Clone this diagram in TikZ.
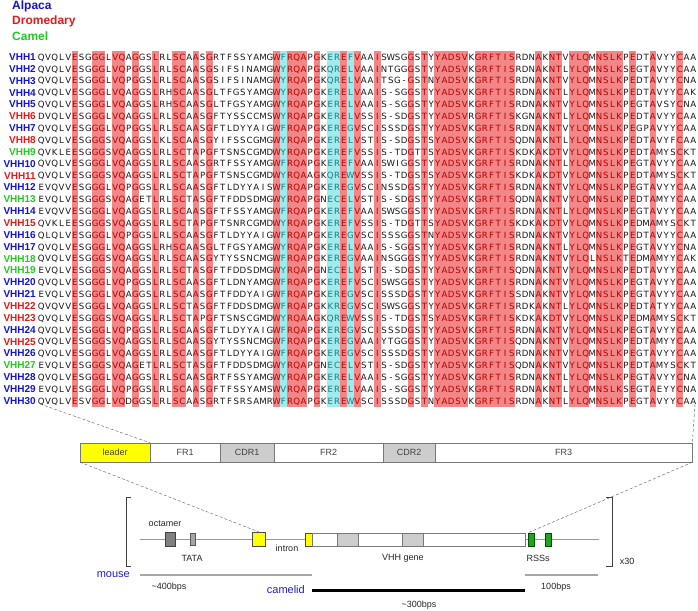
\documentclass[tikz,border=0pt]{standalone}
\usepackage{fontspec}
\setmainfont{Liberation Sans}
\newfontfamily\resfont{DejaVu Sans}

\definecolor{alpaca}{RGB}{20,20,205}
\definecolor{dromedary}{RGB}{225,25,25}
\definecolor{camel}{RGB}{35,200,35}
\definecolor{hlred}{RGB}{243,135,135}
\definecolor{hlcyan}{RGB}{160,236,236}
\definecolor{hltext}{RGB}{180,0,0}
\definecolor{hmtext}{RGB}{20,125,135}
\definecolor{restext}{RGB}{25,25,25}
\definecolor{leaderyellow}{RGB}{255,255,0}
\definecolor{cdrgray}{RGB}{205,205,205}
\definecolor{segline}{RGB}{120,120,120}
\definecolor{rssgreen}{RGB}{30,165,30}
\definecolor{speciesblue}{RGB}{30,30,190}

\makeatletter
\newcount\rescol
\def\redcols{6,9,10,12,13,15,18,21,22,24,26,36,38,39,40,42,46,48,51,56,58,60,61,62,63,64,66,67,68,69,70,71,75,77,78,80,81,82,84,85,86,87,89,92,96}
\def\cyancols{37,44,45,47}
\@for\colid:=\redcols\do{\expandafter\def\csname rc@\colid\endcsname{hltext}}
\@for\colid:=\cyancols\do{\expandafter\def\csname rc@\colid\endcsname{hmtext}}
% one alignment row: number, species colour, residues
\newcommand\seqrow[3]{%
  \node[vhhlabel, text=#2] (vhh#1) at (36,{57+11.86*(#1-1)}) {VHH#1};
  \rescol=0
  \@tfor\resch:=#3\do{%
    \advance\rescol by 1
    \ifcsname rc@\the\rescol\endcsname
      \edef\rescolour{\csname rc@\the\rescol\endcsname}%
    \else
      \def\rescolour{restext}%
    \fi
    \node[residue, text=\rescolour] (r#1c\the\rescol) at ({34.64+6.72*\the\rescol},{57+11.86*(#1-1)}) {\resch};
  }%
}
\makeatother

\begin{document}
\begin{tikzpicture}[x=1pt, y=-1pt,
  residue/.style={inner sep=0pt, text height=6.5pt, text depth=0pt, font=\resfont\fontsize{8.6}{8.6}\selectfont},
  vhhlabel/.style={anchor=east, inner sep=0pt, font=\bfseries\fontsize{10}{12}\selectfont},
  legend/.style={anchor=west, inner sep=0pt, font=\bfseries\fontsize{12}{14}\selectfont},
  seg/.style={draw=segline, anchor=west, minimum height=19pt, inner sep=0pt, font=\fontsize{9}{10}\selectfont, text=black!75},
  box/.style={inner sep=0pt, minimum height=14pt},
  lbl/.style={inner sep=0pt, font=\fontsize{9}{10}\selectfont, text=black!85},
  species/.style={inner sep=0pt, font=\fontsize{11}{12}\selectfont, text=speciesblue},
  zoomline/.style={densely dashed, black!65, thin}]
\useasboundingbox (0,0) rectangle (698,610);

% Legend
\node[legend, text=alpaca] (alpaca) at (12,6) {Alpaca};
\node[legend, text=dromedary] (dromedary) at (12,21) {Dromedary};
\node[legend, text=camel] (camel) at (12,36) {Camel};

% Conserved and hallmark columns
\foreach \k in \redcols
  \fill[hlred] ({38+6.72*(\k-1)},51) rectangle ({38+6.72*\k},407);
\foreach \k in \cyancols
  \fill[hlcyan] ({38+6.72*(\k-1)},51) rectangle ({38+6.72*\k},407);

% Alignment
\seqrow{1}{alpaca}{QVQLVESGGGLVQAGGSLRLSCAASGRTFSSYAMGWFRQAPGKEREFVAAISWSGGSTYYADSVKGRFTISRDNAKNTVYLQMNSLKPEDTAVYYCAA}
\seqrow{2}{alpaca}{QVQLVESGGGLVQPGGSLRLSCAASGSIFSINAMGWYRQAPGKQRELVAAINTGGGSTYYADSVKGRFTISRDNAKNTLYLQMNSLKSEGTAVYYCAA}
\seqrow{3}{alpaca}{QVQLVESGGGLVQPGGSLRLSCAASGSIFSINAMGWYRQAPGKQRELVAAITSG-GSTNYADSVKGRFTISRDNAKNTVYLQMNSLKPEDTAVYYCNA}
\seqrow{4}{alpaca}{QVQLVESGGGLVQAGGSLRHSCAASGLTFGSYAMGWYRQAPGKERELVAAIS-SGGSTYYADSVKGRFTISRDNAKNTLYLQMNSLKPEDTAVYYCAK}
\seqrow{5}{alpaca}{QVQLVESGGGLVQAGGSLRHSCAASGLTFGSYAMGWYRQAPGKERELVAAIS-SGGSTYYADSVKGRFTISRDNAKNTVYLQMNSLKPEGTAVSYCNA}
\seqrow{6}{dromedary}{DVQLVESGGGLVQAGGSLRLSCAASGFTYSSCCMSWYRQAPGKERELVSSIS-SDGSTYYADSVRGRFTISKGNAKNTLYLQMNSLKPEDTAVYYCAA}
\seqrow{7}{alpaca}{QVQLVESGGGLVQPGGSLRLSCAASGFTLDYYAIGWFRQAPGKEREGVSCISSSDGSTYYADSVKGRFTISRDNAKNTVYLQMNSLKPEGPAVYYCAA}
\seqrow{8}{dromedary}{QVQLVESGGGSVQAGGSLKLSCAASGYIFSSCGMGWYRQAPGKERELVSTIS-SDGSTSYADSVKGRFTISQDNAKNTLYLQMNSLKPEDTAVYFCAA}
\seqrow{9}{camel}{QVKLEESGGGSVQAGGSLRLSCTAPGFTSNSCGMDWYRQAPGKEREFVSSIS-TDGTTSYADSVKGRFTISKDKAKDTVYLQMNSLKPEDTAMYSCKT}
\seqrow{10}{alpaca}{QVQLVESGGGLVQAGGSLRLSCAASGRTFSSYAMGWFRQAPGKEREFVAAISWIGGSTYYADSVKGRFTISRDNAKNTLYLQMNSLKPEGTAVYYCAA}
\seqrow{11}{dromedary}{QVQLVESGGGSVQAGGSLRLSCTAPGFTSNSCGMDWYRQAAGKQREWVSSIS-TDGSTSYADSVKGRFTISKDKAKDTVYLQMNSLKPEDTAMYSCKT}
\seqrow{12}{alpaca}{EVQVVESGGGLVQPGGSLRLSCAASGFTLDYYAISWFRQAPGKEREGVSCINSSDGSTYYADSVKGRFTISRDNAKNTVYLQMNSLKPEGTAVYYCAA}
\seqrow{13}{camel}{EVQLVESGGGSVQAGETLRLSCTASGFTFDDSDMGWYRQAPGNECELVSTIS-SDGSTYYADSVKGRFTISQDNAKNTVYLQMNSLKPEDTAMYYCAA}
\seqrow{14}{alpaca}{EVQVVESGGGLVQAGGSLRLSCAASGFTFSSYAMGWFRQAPGKEREFVAAISWSGGSTYYADSVKGRFTISRDNAKNTLYLQMNSLKPEGTAVYYCAA}
\seqrow{15}{dromedary}{QVKLEESGGGSVQAGGSLRLSCTAPGFTSNRCGMDWYRQAPGKEREFVSSIS-TDGTTSYADSVKGRFTISKDKAKDTVYLQMNSLKPEDMAMYSCKT}
\seqrow{16}{alpaca}{QLQLVESGGGLVQPGGSLRLSCAASGFTLDYYAIGWFRQAPGKEREGVSCISSSGGSTNYADSVKGRFTISRDNAKNTVYLQMNSLKPEDTAVYYCAA}
\seqrow{17}{alpaca}{QVQLVESGGGLVQAGGSLRHSCAASGLTFGSYAMGWYRQAPGKERELVAAIS-SGGSTYYADSVKGRFTISRDNAKNTLYLQMNSLKPEGTAVYYCNA}
\seqrow{18}{camel}{QVQLVESGGGSVQAGGSLRLSCAASGYTYSSNCMGWFRQAPGKEREGVAAINSGGGSTYYADSVKGRFTISRDNAKNTVYLQLNSLKTEDMAMYYCAK}
\seqrow{19}{camel}{EVQLVESGGGSVQAGGSLRLSCTASGFTFDDSDMGWYRQAPGNECELVSTIS-SDGSTYYADSVKGRFTISQDNAKNTVYLQMNSLKPEDTAVYYCAA}
\seqrow{20}{alpaca}{QVQLVESGGGLVQPGGSLRLSCAASGFTLDNYAMGWFRQAPGKEREFVSCISWSGGSTYYADSVKGRFTISRDNAKNTVYLQMNSLKPEGTAVYYCAA}
\seqrow{21}{alpaca}{EVQLVESGGGLVQAGGSLRLSCAASGFTFDDYAIGWFRQAPGKEREGVSCISSSDGSTYYADSVKGRFTISSDNAKNTVYLQMNSLKPEGTAVYYCAA}
\seqrow{22}{dromedary}{QVQVVESGGGLVQAGGSLRLSCTASGFTFDDSDMGWFRQAPGKKREGVSCISWSGGSTYYADSVKGRFTISRDKAKNTLYLQMNSLKPEDTATYYCAA}
\seqrow{23}{dromedary}{QVQLVESGGGSVQAGGSLRLSCTAPGFTSNSCGMDWYRQAAGKQREWVSSIS-TDGSTSYADSVKGRFTISKDKAKDTVYLQMNSLKPEDMAMYSCKT}
\seqrow{24}{alpaca}{QVQLVESGGGLVQPGGSLRLSCAASGFTLDYYAIGWFRQAPGKEREGVSCISSSDGSTYYADSVKGRFTISRDNAKNTVYLQMNSLKPEGTAVYYCAA}
\seqrow{25}{dromedary}{QVQLVESGGGSVQAGGSLRLSCAASGYTYSSNCMGWFRQAPGKEREGVAAIYTGGGSTYYADSVKGRFTISQDNAKNTVYLQMNSLKPEDTAMYYCAA}
\seqrow{26}{alpaca}{QVQLVESGGGLVQAGGSLRLSCAASGFTLDYYAIGWFRQAPGKEREGVSCISSSDGSTYYADSVKGRFTISRDNAKNTVYLQMNSLKPEGTAVYYCAA}
\seqrow{27}{camel}{EVQLVESGGGSVQAGETLRLSCTASGFTFDDSDMGWYRQAPGNECELVSTIS-SDGSTYYADSVKGRFTISQDNAKNTVYLQMNSLKPEDTAMYSCKT}
\seqrow{28}{alpaca}{QVQLVESGGGLVQAGGSLRLSCAASGRTFSSYAMGWYRQAPGKERELVAAIS-SGGSTYYADSVKGRFTISRDNAKNTLYLQMNSLKPEGTAVYYCNA}
\seqrow{29}{alpaca}{EVQLVESGGGLVQPGGSLRLSCAASGFTFSSYAMSWVRQAPGKERELVAAIS-SGGSTYYADSVKGRFTISRDNAKNTLYLQMNSLKSEGTAEYYCNA}
\seqrow{30}{alpaca}{QVQLVESVGGLVQDGGSLRLSCAASGRTFSRSAMRWFRQAPGKEREWVSCISSSDGSTNYADSVKGRFTISRDNAKNTLYLQMNSLKPEGTAVYYCAA}

% Domain bar
\node[seg, fill=leaderyellow, minimum width=70pt] (leader) at (80,452.5) {leader};
\node[seg, minimum width=70pt] (fr1) at (150,452.5) {FR1};
\node[seg, fill=cdrgray, minimum width=54pt] (cdr1) at (220,452.5) {CDR1};
\node[seg, minimum width=109pt] (fr2) at (274,452.5) {FR2};
\node[seg, fill=cdrgray, minimum width=52pt] (cdr2) at (383,452.5) {CDR2};
\node[seg, minimum width=257pt] (fr3) at (435,452.5) {FR3};

% Gene locus
\draw[black!40] (140,539) -- (599,539);
\node[box, fill=black!50, draw=black!75, minimum width=10pt] (octbox) at (170,539) {};
\node[box, fill=black!35, draw=black!65, minimum width=5pt, minimum height=12pt] (tatabox) at (192.5,539) {};
\node[box, fill=leaderyellow, draw=black!70, minimum width=13pt] (exon1) at (258.5,539) {};
\node[box, fill=leaderyellow, draw=black!70, minimum width=7pt, minimum height=13pt] (exon2) at (308.5,539.5) {};
\node[box, fill=white, draw=segline, minimum width=213pt, minimum height=13pt] (vhhgene) at (418.5,539.5) {};
\node[box, fill=cdrgray, draw=segline, minimum width=21pt, minimum height=13pt] (genecdr1) at (347.5,539.5) {};
\node[box, fill=cdrgray, draw=segline, minimum width=21pt, minimum height=13pt] (genecdr2) at (412.5,539.5) {};
\node[box, fill=rssgreen, draw=black!70!green, minimum width=6pt, minimum height=13pt] (rss1) at (531,539.5) {};
\node[box, fill=rssgreen, draw=black!70!green, minimum width=6pt, minimum height=13pt] (rss2) at (548,539.5) {};

% Brackets
\draw[black!75] (131,497) -- (126,497) -- (126,566) -- (131,566);
\draw[black!75] (606,497) -- (612,497) -- (612,566) -- (606,566);

% Labels
\node[lbl] (octlabel) at (165,524) {octamer};
\node[lbl] (tatalabel) at (192,558) {TATA};
\node[lbl] (intronlabel) at (287,548) {intron};
\node[lbl] (genelabel) at (403,558) {VHH gene};
\node[lbl] (rsslabel) at (538,558) {RSSs};
\node[lbl] (copies) at (627,561) {x30};

% Lengths
\node[species, anchor=east] (mouse) at (130,575) {mouse};
\draw[black!35, line width=2.5pt] (140,575) -- (312,575);
\draw[black!35, line width=2.5pt] (525,575) -- (598,575);
\node[lbl] (mousebp) at (169,587) {\textasciitilde400bps};
\node[lbl] (rssbp) at (556,587) {100bps};
\node[species, anchor=east] (camelid) at (305,590) {camelid};
\draw[black, line width=3pt] (312,590) -- (525,590);
\node[lbl] (camelbp) at (419,605) {\textasciitilde300bps};

% Zoom lines
\coordinate (alnstart) at (40,404);
\coordinate (alnend) at (695,404);
\draw[zoomline] (alnstart) -- (fr1.north west);
\draw[zoomline] (alnend) -- (fr3.north east);
\draw[zoomline] (leader.south west) -- (exon1.north);
\draw[zoomline] (fr3.south east) -- (rss1.north west);

\end{tikzpicture}
\end{document}
